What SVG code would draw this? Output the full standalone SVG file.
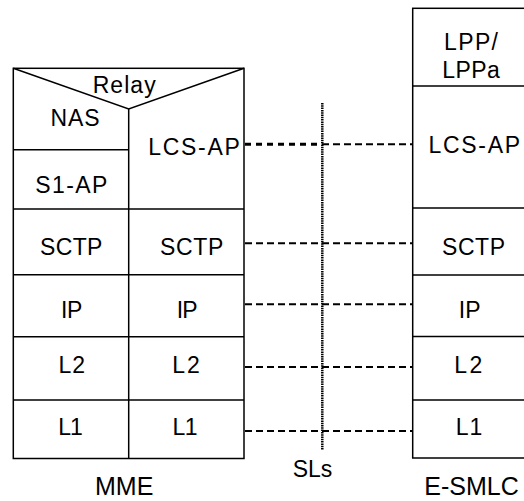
<svg xmlns="http://www.w3.org/2000/svg" width="524" height="501" viewBox="0 0 524 501">
<style>
.box{fill:none;stroke:#000;stroke-width:1.5}
.t{font-family:"Liberation Sans",Arial,sans-serif;font-size:23px;fill:#000;text-anchor:middle}
.lab{font-size:25px}
.dash{stroke:#000;stroke-width:2;stroke-dasharray:7 4;fill:none}
.dashb{stroke:#000;stroke-width:3;stroke-dasharray:6 5;fill:none}
.dot{stroke:#000;stroke-width:2.5;stroke-dasharray:1.5 0.8;fill:none}
</style>
<rect width="524" height="501" fill="#fff"/>
<g id="mme">
<rect class="box" x="13.3" y="68.3" width="230.7" height="390.2"/>
<polyline class="box" points="13.3,68.3 128.7,109 244,68.3"/>
<line class="box" x1="128.7" y1="109" x2="128.7" y2="458.5"/>
<line class="box" x1="13.3" y1="149.7" x2="128.7" y2="149.7"/>
<line class="box" x1="13.3" y1="209" x2="244" y2="209"/>
<line class="box" x1="13.3" y1="274.7" x2="244" y2="274.7"/>
<line class="box" x1="13.3" y1="336.7" x2="244" y2="336.7"/>
<line class="box" x1="13.3" y1="400" x2="244" y2="400"/>
<text class="t" x="124.2" y="93" textLength="63">Relay</text>
<text class="t" x="75" y="126" textLength="49">NAS</text>
<text class="t" x="71.3" y="192.5" textLength="72">S1-AP</text>
<text class="t" x="194" y="155" textLength="91.5">LCS-AP</text>
<text class="t" x="71.2" y="255" textLength="62.5">SCTP</text>
<text class="t" x="191.7" y="255" textLength="63.5">SCTP</text>
<text class="t" x="71.7" y="318" textLength="21.5">IP</text>
<text class="t" x="187.2" y="318" textLength="21">IP</text>
<text class="t" x="71.7" y="373" textLength="26.5">L2</text>
<text class="t" x="186" y="373" textLength="27.5">L2</text>
<text class="t" x="70.5" y="435" textLength="24.5">L1</text>
<text class="t" x="185" y="435" textLength="25">L1</text>
<text class="t lab" x="124.2" y="495">MME</text>
</g>
<g id="esmlc">
<rect class="box" x="412.7" y="8.3" width="130" height="449.7"/>
<line class="box" x1="412.7" y1="86" x2="530" y2="86"/>
<line class="box" x1="412.7" y1="208" x2="530" y2="208"/>
<line class="box" x1="412.7" y1="275" x2="530" y2="275"/>
<line class="box" x1="412.7" y1="336.5" x2="530" y2="336.5"/>
<line class="box" x1="412.7" y1="400" x2="530" y2="400"/>
<text class="t" x="471" y="50" textLength="54">LPP/</text>
<text class="t" x="471" y="77.5" textLength="57.5">LPPa</text>
<text class="t" x="474.3" y="152.5" textLength="91.5">LCS-AP</text>
<text class="t" x="473.5" y="255" textLength="63">SCTP</text>
<text class="t" x="469.7" y="318" textLength="22">IP</text>
<text class="t" x="468.3" y="373" textLength="28">L2</text>
<text class="t" x="469" y="435" textLength="26.5">L1</text>
<text class="t lab" x="471.5" y="495">E-SMLC</text>
</g>
<g id="sls">
<line class="dot" x1="322.3" y1="103" x2="322.3" y2="450"/>
<text class="t" x="312.5" y="476.7">SLs</text>
</g>
<g id="connectors">
<line class="dashb" x1="245" y1="144.3" x2="322" y2="144.3"/>
<line class="dash" x1="322" y1="144.3" x2="412" y2="144.3"/>
<line class="dash" x1="245" y1="243.3" x2="412" y2="243.3"/>
<line class="dash" x1="245" y1="304.3" x2="412" y2="304.3"/>
<line class="dash" x1="245" y1="367" x2="412" y2="367"/>
<line class="dash" x1="245" y1="431" x2="412" y2="431"/>
</g>
</svg>
